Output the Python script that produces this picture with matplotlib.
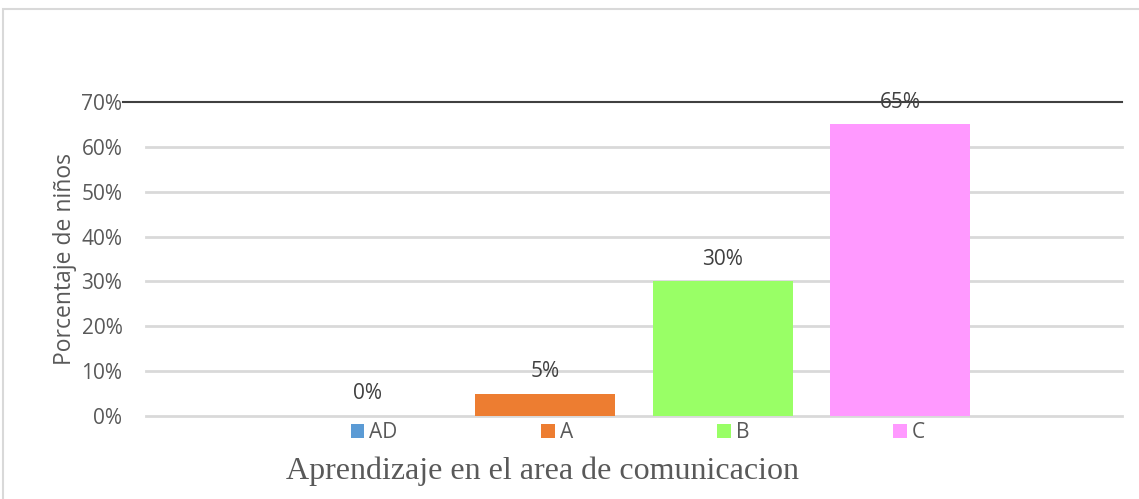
import matplotlib.pyplot as plt
from matplotlib.patches import Rectangle, Patch
from matplotlib.ticker import PercentFormatter

categories = ["AD", "A", "B", "C"]
values = [0.00, 0.05, 0.30, 0.65]
labels = ["0%", "5%", "30%", "65%"]
colors = ["#5B9BD5", "#ED7D31", "#99FF66", "#FF99FF"]
yticks = [0.0, 0.1, 0.2, 0.3, 0.4, 0.5, 0.6, 0.7]

text_color = "#595959"
grid_color = "#d9d9d9"

fig = plt.figure(figsize=(11.39, 4.99), dpi=100)
ax = fig.add_axes([146 / 1139, 83 / 499, 976 / 1139, 314 / 499])

x = list(range(len(categories)))
bars = ax.bar(x, values, width=0.79, color=colors, zorder=3)

for xi, v, lab in zip(x, values, labels):
    ax.annotate(lab, (xi, v), xytext=(0, 16), textcoords="offset points",
                ha="center", va="center", fontsize=15, color="#404040",
                family="Open Sans", zorder=3)

ax.set_xlim(-1.25, 4.25)
ax.set_ylim(0, 0.70)
ax.set_yticks(yticks)
ax.yaxis.set_major_formatter(PercentFormatter(1.0, decimals=0))
ax.set_xticks([])
ax.tick_params(axis="y", length=0, pad=17, labelsize=15, labelcolor=text_color)
for lab in ax.get_yticklabels():
    lab.set_family("Open Sans")

for s in ax.spines.values():
    s.set_visible(False)

# gridlines (top one is dark and reaches the tick label)
for yv in yticks[:-1]:
    ax.axhline(yv, color=grid_color, lw=2, zorder=1, clip_on=False)
ax.plot([-0.024, 1.0], [0.70, 0.70], transform=ax.get_yaxis_transform(),
        color="#404040", lw=1.5, clip_on=False, zorder=4)

ax.set_ylabel("Porcentaje de niños", fontsize=16.5, color=text_color,
              family="Open Sans")
ax.yaxis.set_label_coords(-0.071, 0.5)

handles = [Patch(facecolor=c, label=k) for c, k in zip(colors, categories)]
ax.legend(handles=handles, loc="center", bbox_to_anchor=(0.504, -0.054),
          ncol=4, frameon=False, handlelength=0.65, handleheight=0.65,
          handletextpad=0.25, columnspacing=6.9,
          prop={"family": "Open Sans", "size": 15}, labelcolor=text_color)

fig.text(543 / 1139, 28 / 499, "Aprendizaje en el area de comunicacion",
         ha="center", va="center", fontsize=23, color=text_color,
         family="Liberation Serif")

fig.add_artist(Rectangle((3 / 1139, -0.1), 1.2, (499 - 9) / 499 + 0.1,
                         fill=False, ec=grid_color, lw=1.5,
                         transform=fig.transFigure))

fig.savefig("out.png", dpi=100)
